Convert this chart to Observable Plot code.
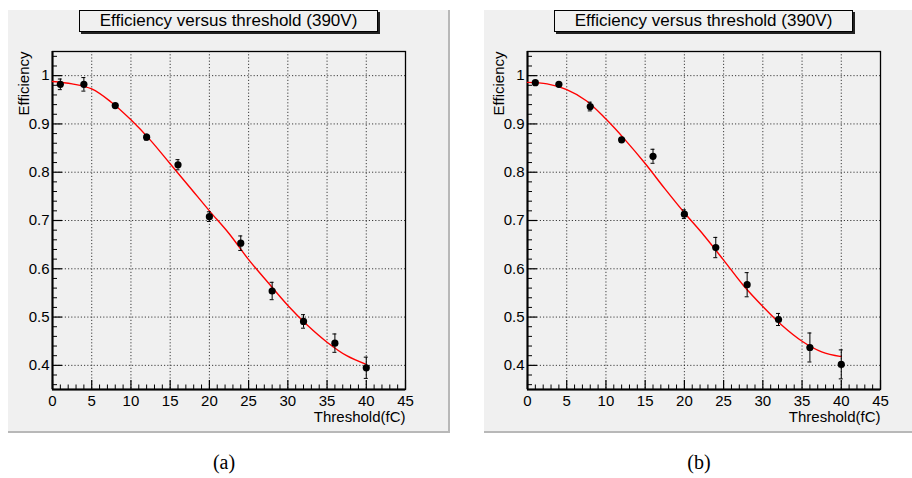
<!DOCTYPE html>
<html><head><meta charset="utf-8">
<script src="https://cdn.jsdelivr.net/npm/d3@7"></script>
<script src="https://cdn.jsdelivr.net/npm/@observablehq/plot@0.6"></script>
<style>
html,body{margin:0;padding:0;background:#fff}
body{width:912px;height:478px;position:relative;overflow:hidden;font-family:"Liberation Sans",Arial,sans-serif}
.panel{position:absolute;background:#f0f0f0;box-sizing:border-box;border-right:2px solid #b8b8b8;border-bottom:2px solid #b8b8b8}
.plot{position:absolute}
.title{position:absolute;box-sizing:border-box;height:22px;border:1px solid #000;background:#f0f0f0;box-shadow:2px 2px 0 #222;font-size:17px;line-height:20px;text-align:center;color:#000;white-space:nowrap}
.cap{position:absolute;font-family:"Liberation Serif","Times New Roman",serif;font-size:20px;transform:translate(-50%,-50%);color:#000}
</style></head>
<body>
<div class="panel" style="left:8px;top:10px;width:442px;height:423px"></div>
<div class="panel" style="left:484px;top:10px;width:430px;height:423px;border-right:none"></div>
<div id="pa" class="plot" style="left:8px;top:10px"></div>
<div id="pb" class="plot" style="left:484px;top:10px"></div>
<div class="title" style="left:79px;top:10px;width:299px">Efficiency versus threshold (390V)</div>
<div class="title" style="left:554px;top:10px;width:299px">Efficiency versus threshold (390V)</div>
<div class="cap" style="left:224px;top:462px">(a)</div>
<div class="cap" style="left:699px;top:462px">(b)</div>
<script>
// ---- data ----
const thresholds = [1, 4, 8, 12, 16, 20, 24, 28, 32, 36, 40];
const effA = [0.982, 0.982, 0.938, 0.8725, 0.8155, 0.708, 0.653, 0.554, 0.491, 0.446, 0.395];
const errA = [0.011, 0.014, 0.004, 0.006, 0.0105, 0.010, 0.015, 0.018, 0.014, 0.019, 0.022];
const effB = [0.9855, 0.982, 0.936, 0.867, 0.833, 0.713, 0.644, 0.567, 0.495, 0.437, 0.402];
const errB = [0.002, 0.002, 0.009, 0.005, 0.0145, 0.009, 0.021, 0.025, 0.0125, 0.030, 0.030];
const fitX = [0, 2.5, 5, 7.5, 10, 12.5, 15, 17.5, 20, 22.5, 25, 27.5, 30, 32.5, 35, 37.5, 40];
const fitA = [0.988, 0.983, 0.9725, 0.945, 0.9085, 0.866, 0.8175, 0.769, 0.720, 0.673, 0.619, 0.571, 0.524, 0.483, 0.448, 0.420, 0.402];
const fitB = [0.986, 0.983, 0.971, 0.948, 0.910, 0.866, 0.818, 0.766, 0.716, 0.669, 0.618, 0.566, 0.522, 0.482, 0.450, 0.428, 0.418];
const xTicks = [0, 5, 10, 15, 20, 25, 30, 35, 40, 45];
const yTicks = [0.4, 0.5, 0.6, 0.7, 0.8, 0.9, 1];
const xLabel = "Threshold(fC)";
const yLabel = "Efficiency";

const xDomain = [0, 45], yDomain = [0.35, 1.05];
const xMinor = d3.range(0, 46, 1).filter(d => d % 5 !== 0);
const yMinor = d3.range(36, 105, 2).map(d => d / 100).filter(d => Math.round(d * 100) % 10 !== 0);

function panel(el, eff, err, fit, width, ml, mr) {
  const mt = 41, mb = 43, height = 422;
  const fh = height - mt - mb, fw = width - ml - mr;
  const pts = thresholds.map((x, i) => ({x, y: eff[i], e: err[i]}));
  const curve = fitX.map((x, i) => ({x, y: fit[i]}));
  const grid = {stroke: "#000", strokeOpacity: 0.75, strokeWidth: 1, strokeDasharray: "1.2,2"};
  const chart = Plot.plot({
    width, height, marginLeft: ml, marginRight: mr, marginTop: mt, marginBottom: mb,
    style: {fontFamily: "'Liberation Sans', Arial, sans-serif", fontSize: "15px", background: "transparent", color: "#000", overflow: "visible"},
    x: {domain: xDomain},
    y: {domain: yDomain},
    marks: [
      Plot.ruleX(xTicks.filter(d => d > 0 && d < 45), grid),
      Plot.ruleY(yTicks, grid),
      Plot.tickX(xTicks, {x: d => d, insetTop: fh - 9, stroke: "#000", strokeWidth: 1.2}),
      Plot.tickX(xMinor, {x: d => d, insetTop: fh - 4.5, stroke: "#000", strokeWidth: 1}),
      Plot.tickY(yTicks, {y: d => d, insetRight: fw - 10, stroke: "#000", strokeWidth: 1.2}),
      Plot.tickY(yMinor, {y: d => d, insetRight: fw - 5, stroke: "#000", strokeWidth: 1}),
      Plot.frame({stroke: "#000", strokeWidth: 1.3}),
      Plot.ruleX([xDomain[0]], {stroke: "#000", strokeWidth: 2}),
      Plot.ruleY([yDomain[0]], {stroke: "#000", strokeWidth: 2}),
      Plot.axisX(xTicks, {tickSize: 0, tickPadding: 6, tickFormat: d => String(d), label: null}),
      Plot.axisY(yTicks, {tickSize: 0, tickPadding: 3, tickFormat: d => String(d), label: null}),
      Plot.text([xLabel], {frameAnchor: "bottom-right", text: d => d, textAnchor: "end", dy: 32}),
      Plot.text([yLabel], {frameAnchor: "top-left", text: d => d, textAnchor: "end", rotate: -90, dx: -34}),
      Plot.line(curve, {x: "x", y: "y", stroke: "#ff0000", strokeWidth: 1.4, curve: "catmull-rom"}),
      Plot.ruleX(pts, {x: "x", y1: d => d.y - d.e, y2: d => d.y + d.e, stroke: "#000", strokeWidth: 1}),
      Plot.ruleY(pts, {y: d => d.y + d.e, x1: "x", x2: "x", insetLeft: -2, insetRight: -2, stroke: "#000", strokeWidth: 1}),
      Plot.ruleY(pts, {y: d => d.y - d.e, x1: "x", x2: "x", insetLeft: -2, insetRight: -2, stroke: "#000", strokeWidth: 1}),
      Plot.dot(pts, {x: "x", y: "y", r: 3.6, fill: "#000", stroke: "none"})
    ]
  });
  document.getElementById(el).appendChild(chart);
}
panel("pa", effA, errA, fitA, 441, 44, 44);
panel("pb", effB, errB, fitB, 428, 43, 32);
</script>
</body></html>
